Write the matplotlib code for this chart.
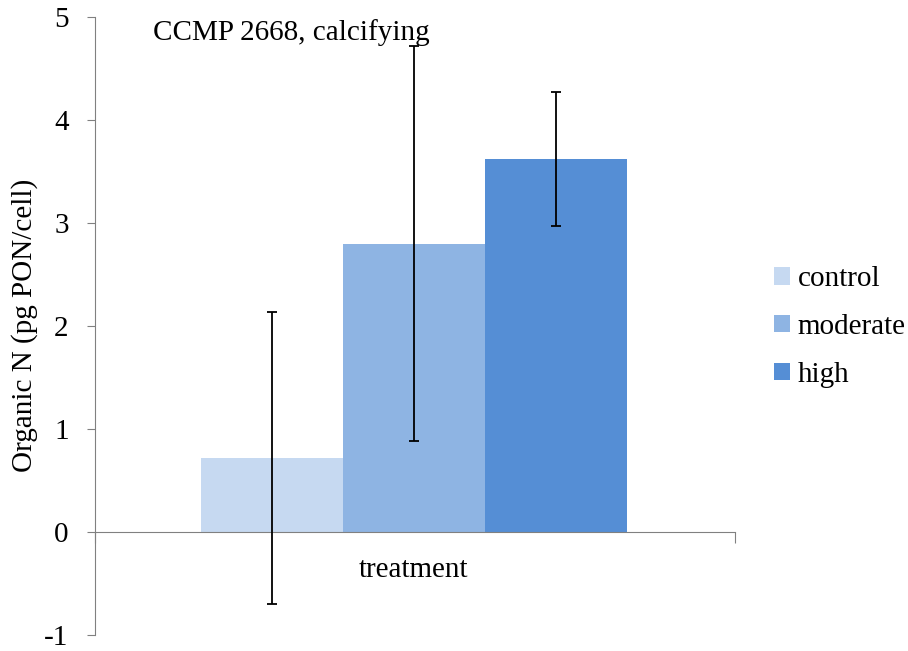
import matplotlib.pyplot as plt

# datos
grupos = ['control', 'moderate', 'high']
valores = [0.72, 2.80, 3.62]
errores = [1.42, 1.92, 0.65]
colores = ['#C6D9F1', '#8EB4E3', '#558ED5']
posiciones = [0.276, 0.498, 0.720]

plt.rcParams['font.family'] = ['Liberation Serif', 'DejaVu Serif']
plt.rcParams['axes.unicode_minus'] = False

fig = plt.figure(figsize=(9.08, 6.51), dpi=100)
ax = fig.add_axes([0.1046, 0.0246, 0.705, 0.9494])

for x, v, e, c, g in zip(posiciones, valores, errores, colores, grupos):
    ax.bar(x, v, width=0.222, color=c, label=g, linewidth=0, zorder=2)
    ax.errorbar(x, v, yerr=e, fmt='none', ecolor='black', elinewidth=1.3,
                capsize=3.5, capthick=1.3, zorder=3)

ax.set_xlim(0, 1)
ax.set_ylim(-1, 5)
ax.set_yticks(range(-1, 6))
ax.tick_params(axis='y', direction='out', length=6, color='#808080',
               labelsize=21, pad=13)

for s in ['top', 'right']:
    ax.spines[s].set_visible(False)
ax.spines['left'].set_color('#808080')
ax.spines['bottom'].set_color('#808080')
ax.spines['bottom'].set_position(('data', 0))

ax.set_xticks([0, 1])
ax.set_xticklabels(['', ''])
ax.tick_params(axis='x', direction='out', length=8, color='#808080')
ax.text(0.498, -0.37, 'treatment', ha='center', va='center', fontsize=21)

fig.text(25 / 908, 0.5, 'Organic N (pg PON/cell)', rotation=90,
         ha='center', va='center', fontsize=21)
ax.text(0.09, 4.85, 'CCMP 2668, calcifying', ha='left', va='center', fontsize=21)

fig.legend(loc='center left', bbox_to_anchor=(0.8525, 0.4977), frameon=False,
           fontsize=21, handlelength=0.55, handleheight=0.55, handletextpad=0.25,
           labelspacing=0.75, borderpad=0, borderaxespad=0)

fig.savefig('out.png', dpi=100)
